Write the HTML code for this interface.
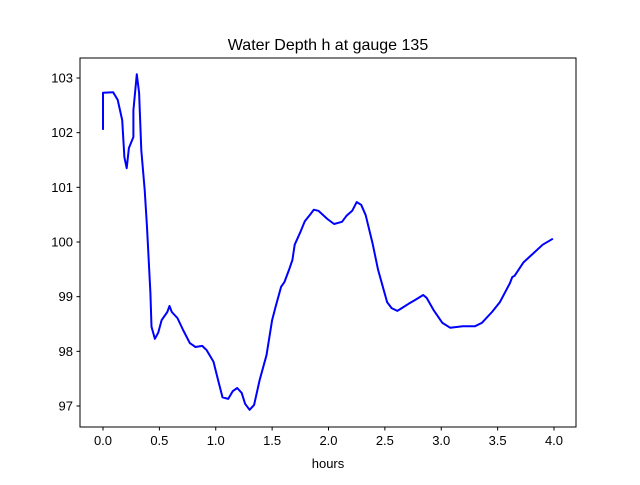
<!DOCTYPE html>
<html><head><meta charset="utf-8"><style>
body{margin:0;background:#fff}
svg text{font-family:"Liberation Sans","DejaVu Sans",sans-serif;fill:#000}
</style></head><body>
<svg id="chart" width="640" height="480" xmlns="http://www.w3.org/2000/svg">
<rect width="640" height="480" fill="#fff"/>
<text x="328" y="50" font-size="16" text-anchor="middle">Water Depth h at gauge 135</text>
<text x="328" y="468" font-size="13" text-anchor="middle">hours</text>
<g id="ticks"></g>
<path id="series" fill="none" stroke="#0000ff" stroke-width="2" stroke-linejoin="round"/>
<rect x="80" y="58" width="496" height="369" fill="none" stroke="#000" stroke-width="1"/>
</svg>
<script>
const hours=[0.00,0.00,0.09,0.13,0.17,0.19,0.21,0.23,0.27,0.27,0.30,0.32,0.34,0.37,0.39,0.42,0.43,0.46,0.49,0.52,0.57,0.59,0.61,0.66,0.71,0.77,0.82,0.88,0.92,0.98,1.02,1.06,1.11,1.15,1.19,1.23,1.26,1.30,1.34,1.39,1.45,1.50,1.53,1.58,1.61,1.65,1.68,1.70,1.75,1.79,1.84,1.87,1.91,1.99,2.05,2.12,2.16,2.21,2.25,2.29,2.33,2.39,2.44,2.52,2.56,2.61,2.65,2.71,2.77,2.84,2.87,2.93,3.01,3.08,3.19,3.30,3.36,3.45,3.52,3.61,3.63,3.65,3.73,3.81,3.90,3.99];
const depth=[102.05,102.73,102.74,102.60,102.23,101.55,101.35,101.72,101.92,102.41,103.07,102.73,101.68,100.95,100.27,99.07,98.45,98.23,98.34,98.57,98.72,98.83,98.72,98.61,98.39,98.15,98.08,98.10,98.02,97.81,97.48,97.16,97.13,97.27,97.33,97.24,97.04,96.93,97.02,97.48,97.93,98.57,98.81,99.18,99.27,99.49,99.67,99.95,100.18,100.38,100.51,100.59,100.57,100.42,100.33,100.37,100.48,100.57,100.73,100.68,100.49,99.98,99.49,98.90,98.79,98.74,98.79,98.87,98.94,99.03,98.98,98.76,98.52,98.43,98.46,98.46,98.52,98.72,98.90,99.25,99.36,99.38,99.63,99.78,99.95,100.06];
const xTicks=[0,0.5,1,1.5,2,2.5,3,3.5,4];
const xTickLabels=["0.0","0.5","1.0","1.5","2.0","2.5","3.0","3.5","4.0"];
const yTicks=[97,98,99,100,101,102,103];
const yTickLabels=["97","98","99","100","101","102","103"];
const X=h=>103+h*112.75;
const Y=v=>78+(103-v)*54.667;
const NS="http://www.w3.org/2000/svg";
const g=document.getElementById('ticks');
function mk(t,a){const e=document.createElementNS(NS,t);for(const k in a)e.setAttribute(k,a[k]);g.appendChild(e);return e;}
xTicks.forEach((t,i)=>{
 const l=mk('line',{x1:X(t),x2:X(t),y1:427,y2:430.5,stroke:'#000'});
 
 
 const tx=mk('text',{x:X(t),y:445,'font-size':13,'text-anchor':'middle'});
 tx.textContent=xTickLabels[i];
 
 
});
yTicks.forEach((t,i)=>{
 const l=mk('line',{x1:76.5,x2:80,y1:Y(t),y2:Y(t),stroke:'#000'});
 
 
 const tx=mk('text',{x:73,y:Y(t)+4.5,'font-size':13,'text-anchor':'end'});
 tx.textContent=yTickLabels[i];
 
 
});
document.getElementById('series').setAttribute('d',hours.map((h,i)=>(i?'L':'M')+X(h).toFixed(1)+' '+Y(depth[i]).toFixed(1)).join(' '));
</script>
</body></html>
